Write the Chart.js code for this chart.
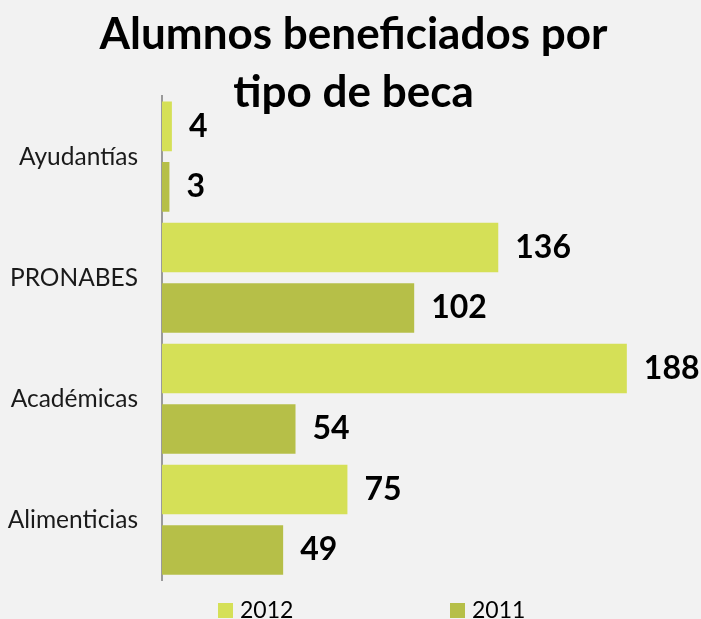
<!DOCTYPE html>
<html>
<head>
<meta charset="utf-8">
<script src="https://cdn.jsdelivr.net/npm/chart.js@4/dist/chart.umd.min.js"></script>
<style>
  html, body { margin: 0; padding: 0; background: #f2f2f2; overflow: hidden; }
  #wrap { width: 701px; height: 619px; }
</style>
</head>
<body>
<div id="wrap"><canvas id="chart" width="701" height="619"></canvas></div>
<script>
let categories = ["Ayudantías", "PRONABES", "Académicas", "Alimenticias"];
let values2012 = [4, 136, 188, 75];
let values2011 = [3, 102, 54, 49];
let seriesNames = ["2012", "2011"];
let titleLines = ["Alumnos beneficiados por", "tipo de beca"];

let color2012 = "#d5e057";
let color2011 = "#b6bf48";

// valores al final de cada barra
let valueLabels = {
  id: "valueLabels",
  afterDatasetsDraw(chart) {
    let ctx = chart.ctx;
    ctx.save();
    ctx.font = "bold 32px Lato";
    ctx.fillStyle = "#000";
    ctx.textAlign = "left";
    ctx.textBaseline = "middle";
    chart.data.datasets.forEach(function(ds, i) {
      chart.getDatasetMeta(i).data.forEach(function(bar, j) {
        ctx.fillText(ds.data[j], bar.x + 17, bar.y);
      });
    });
    ctx.restore();
  }
};

// leyenda abajo, separada como en el original
let bottomLegend = {
  id: "bottomLegend",
  afterDraw(chart) {
    let ctx = chart.ctx;
    let xs = [218, 450];
    ctx.save();
    ctx.font = "23px Lato";
    ctx.textBaseline = "alphabetic";
    ctx.textAlign = "left";
    chart.data.datasets.forEach(function(ds, i) {
      ctx.fillStyle = ds.backgroundColor;
      ctx.fillRect(xs[i], 603, 15, 15);
      ctx.fillStyle = "#000";
      ctx.fillText(ds.label, xs[i] + 22, 618);
    });
    ctx.restore();
  }
};

let config = {
  type: "bar",
  data: {
    labels: categories,
    datasets: [
      {
        label: seriesNames[0],
        data: values2012,
        backgroundColor: color2012,
        categoryPercentage: 1,
        barPercentage: 0.82
      },
      {
        label: seriesNames[1],
        data: values2011,
        backgroundColor: color2011,
        categoryPercentage: 1,
        barPercentage: 0.82
      }
    ]
  },
  options: {
    indexAxis: "y",
    responsive: false,
    animation: false,
    layout: { padding: { left: 6, right: 0, top: 0, bottom: 34 } },
    scales: {
      x: {
        display: false,
        min: 0,
        max: 218
      },
      y: {
        grid: { display: false, drawTicks: false },
        border: { display: true, color: "#9a9a9a", width: 2 },
        ticks: {
          color: "#1a1a1a",
          font: { family: "Lato", size: 24.5 },
          padding: 24
        },
        afterFit: function(scale) {
          scale.width = 156;
        }
      }
    },
    plugins: {
      legend: { display: false },
      tooltip: { enabled: false },
      title: {
        display: true,
        text: titleLines,
        color: "#000",
        font: { family: "Lato", size: 44, weight: "bold", lineHeight: 1.32 },
        padding: { top: 6, bottom: -26 }
      }
    }
  },
  plugins: [valueLabels, bottomLegend]
};

window.onload = function() {
  let ctx = document.getElementById("chart").getContext("2d");
  window.chart = new Chart(ctx, config);
};
</script>
</body>
</html>
